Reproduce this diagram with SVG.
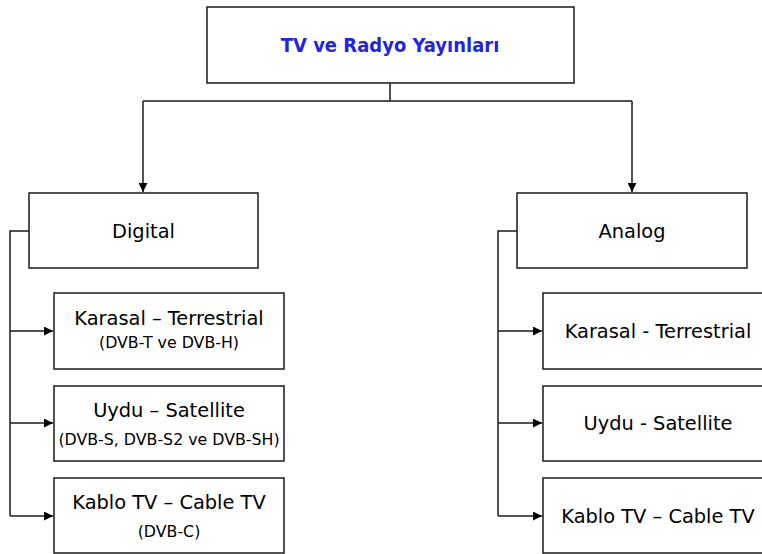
<svg xmlns="http://www.w3.org/2000/svg" width="762" height="554" viewBox="0 0 762 554">
<defs>
<marker id="ah" viewBox="0 0 10 10" refX="10" refY="5" markerWidth="9" markerHeight="9" markerUnits="userSpaceOnUse" orient="auto">
<path d="M0,0 L10,5 L0,10 z" fill="#000"/>
</marker>
<style>
.box{fill:#fff;stroke:#1a1a1a;stroke-width:1.5}
.t{font-family:"DejaVu Sans",sans-serif;font-size:19.4px;fill:#000;text-anchor:middle}
.s{font-family:"DejaVu Sans",sans-serif;font-size:15.8px;fill:#000;text-anchor:middle}
.title{font-family:"DejaVu Sans Condensed","DejaVu Sans",sans-serif;font-weight:bold;font-size:20px;fill:#2424dc;text-anchor:middle}
.c{fill:none;stroke:#1a1a1a;stroke-width:1.5}
</style>
</defs>
<rect width="762" height="554" fill="#fff"/>
<g id="connectors">
<path class="c" d="M390,83 V101 M143,101 H632"/>
<path class="c" d="M143,101 V192" marker-end="url(#ah)"/>
<path class="c" d="M632,101 V192" marker-end="url(#ah)"/>
<path class="c" d="M29,231 H10 V516"/>
<path class="c" d="M10,331 H53" marker-end="url(#ah)"/>
<path class="c" d="M10,423 H53" marker-end="url(#ah)"/>
<path class="c" d="M10,516 H53" marker-end="url(#ah)"/>
<path class="c" d="M517,231 H498 V516"/>
<path class="c" d="M498,331 H542" marker-end="url(#ah)"/>
<path class="c" d="M498,423 H542" marker-end="url(#ah)"/>
<path class="c" d="M498,516 H542" marker-end="url(#ah)"/>
</g>
<g id="root">
<rect class="box" x="207" y="7" width="367" height="76"/>
<text class="title" x="390" y="52">TV ve Radyo Yayınları</text>
</g>
<g id="digital">
<rect class="box" x="29" y="193" width="229" height="75"/>
<text class="t" x="143.5" y="238">Digital</text>
</g>
<g id="analog">
<rect class="box" x="517" y="193" width="230" height="75"/>
<text class="t" x="632" y="238">Analog</text>
</g>
<g id="d-karasal">
<rect class="box" x="54" y="293" width="230" height="76"/>
<text class="t" x="169" y="325">Karasal – Terrestrial</text>
<text class="s" x="169" y="348">(DVB-T ve DVB-H)</text>
</g>
<g id="d-uydu">
<rect class="box" x="54" y="386" width="230" height="75"/>
<text class="t" x="169" y="417">Uydu – Satellite</text>
<text class="s" x="169" y="445">(DVB-S, DVB-S2 ve DVB-SH)</text>
</g>
<g id="d-kablo">
<rect class="box" x="54" y="478" width="230" height="75"/>
<text class="t" x="169" y="509">Kablo TV – Cable TV</text>
<text class="s" x="169" y="537">(DVB-C)</text>
</g>
<g id="a-karasal">
<rect class="box" x="543" y="293" width="230" height="76"/>
<text class="t" x="658" y="338">Karasal - Terrestrial</text>
</g>
<g id="a-uydu">
<rect class="box" x="543" y="386" width="230" height="75"/>
<text class="t" x="658" y="430">Uydu - Satellite</text>
</g>
<g id="a-kablo">
<rect class="box" x="543" y="478" width="230" height="75"/>
<text class="t" x="658" y="523">Kablo TV – Cable TV</text>
</g>
</svg>
